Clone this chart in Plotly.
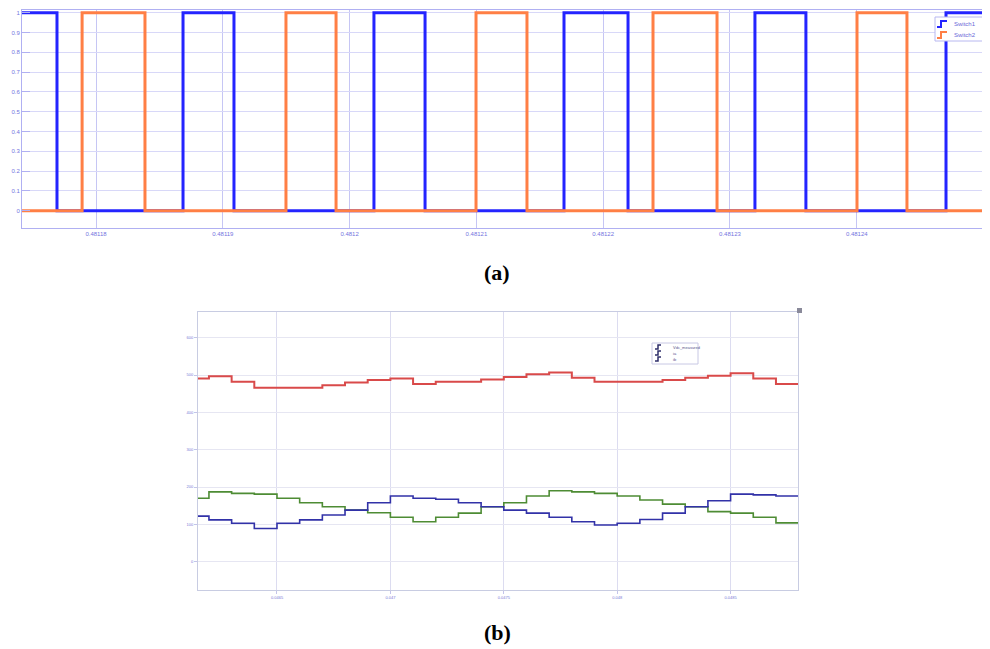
import plotly.graph_objects as go

# page body has an 8px margin; figure is sized to fill the remaining window
OFF = 8
W, H = 990 - OFF, 649 - OFF

# ---------------- (a) switching signals ----------------
sw1_t = [0.481174, 0.48117692, 0.48118686, 0.48119088, 0.48120192, 0.48120595,
         0.48121691, 0.48122196, 0.48123197, 0.48123599, 0.48124704, 0.481251]
sw1_v = [1, 0, 1, 0, 1, 0, 1, 0, 1, 0, 1, 1]
sw2_t = [0.481174, 0.4811789, 0.48118386, 0.48119498, 0.48119893, 0.48120997,
         0.48121399, 0.48122393, 0.48122898, 0.48124002, 0.48124396, 0.481251]
sw2_v = [0, 1, 0, 1, 0, 1, 0, 1, 0, 1, 0, 0]
a_xticks = [0.48118, 0.48119, 0.4812, 0.48121, 0.48122, 0.48123, 0.48124, 0.48125]
a_xlabels = ["0.48118", "0.48119", "0.4812", "0.48121", "0.48122", "0.48123", "0.48124", "0.48125"]
a_yticks = [0, 0.1, 0.2, 0.3, 0.4, 0.5, 0.6, 0.7, 0.8, 0.9, 1]
a_ylabels = ["0", "0.1", "0.2", "0.3", "0.4", "0.5", "0.6", "0.7", "0.8", "0.9", "1"]
a_names = ["Switch1", "Switch2"]

# ---------------- (b) measured quantities ----------------
b_t = [0.04615, 0.0462, 0.0463, 0.0464, 0.0465, 0.0466, 0.0467, 0.0468, 0.0469, 0.047,
       0.0471, 0.0472, 0.0473, 0.0474, 0.0475, 0.0476, 0.0477, 0.0478, 0.0479, 0.048,
       0.0481, 0.0482, 0.0483, 0.0484, 0.0485, 0.0486, 0.0487, 0.0488]
b_red = [491, 497, 482, 466, 466, 466, 473, 480, 487, 491, 476, 482, 482, 488,
         495, 502, 507, 493, 482, 482, 482, 487, 493, 498, 505, 491, 476, 476]
b_green = [170, 187, 183, 181, 170, 158, 147, 138, 131, 119, 107, 119, 130, 147,
           158, 176, 190, 187, 183, 176, 165, 154, 147, 134, 130, 119, 104, 104]
b_blue = [122, 112, 103, 89, 103, 112, 125, 138, 158, 176, 170, 167, 158, 147,
          138, 130, 119, 107, 98, 103, 113, 130, 147, 163, 181, 179, 176, 176]
b_xticks = [0.0465, 0.047, 0.0475, 0.048, 0.0485]
b_xlabels = ["0.0465", "0.047", "0.0475", "0.048", "0.0485"]
b_yticks = [0, 100, 200, 300, 400, 500, 600]
b_ylabels = ["0", "100", "200", "300", "400", "500", "600"]
b_names = ["Vdc_measured", "ia", "ib"]


def px(x):
    return (x - OFF) / W


def py(y):
    return 1 - (y - OFF) / H


fig = go.Figure()

fig.add_trace(go.Scatter(x=sw1_t, y=sw1_v, mode="lines", line_shape="hv",
                         line=dict(color="#2424ff", width=3), name=a_names[0],
                         xaxis="x", yaxis="y", showlegend=False))
fig.add_trace(go.Scatter(x=sw2_t, y=sw2_v, mode="lines", line_shape="hv",
                         line=dict(color="#ff7f45", width=3), name=a_names[1],
                         xaxis="x", yaxis="y", showlegend=False))

fig.add_trace(go.Scatter(x=b_t, y=b_red, mode="lines", line_shape="hv",
                         line=dict(color="#d94a4a", width=2), name=b_names[0],
                         xaxis="x2", yaxis="y2", showlegend=False))
fig.add_trace(go.Scatter(x=b_t, y=b_green, mode="lines", line_shape="hv",
                         line=dict(color="#4e8c34", width=1.6), name=b_names[1],
                         xaxis="x2", yaxis="y2", showlegend=False))
fig.add_trace(go.Scatter(x=b_t, y=b_blue, mode="lines", line_shape="hv",
                         line=dict(color="#3232a8", width=1.6), name=b_names[2],
                         xaxis="x2", yaxis="y2", showlegend=False))

tick_font_a = dict(family="Liberation Sans, Arial, sans-serif", size=6, color="#7474e0")
tick_font_b = dict(family="Liberation Sans, Arial, sans-serif", size=4, color="#7a7ad6")

fig.update_layout(
    width=W, height=H, autosize=False,
    margin=dict(l=0, r=0, t=0, b=0),
    paper_bgcolor="white", plot_bgcolor="white",
    showlegend=False,
    xaxis=dict(domain=[px(22), 1.0], range=[0.48117416, 0.48125051],
               tickmode="array", tickvals=a_xticks, ticktext=a_xlabels,
               tickfont=tick_font_a, ticks="", showgrid=True, gridcolor="#c6c6f4",
               gridwidth=1, showline=True, linecolor="#b0b0f2", linewidth=1,
               mirror=True, zeroline=False, anchor="y"),
    yaxis=dict(domain=[py(228), py(10)], range=[-0.087, 1.0136],
               tickmode="array", tickvals=a_yticks, ticktext=a_ylabels,
               tickfont=tick_font_a, ticks="inside", ticklen=8, tickcolor="#b0b0f2",
               showgrid=True, gridcolor="#d8d8f8", gridwidth=1,
               showline=True, linecolor="#b0b0f2", linewidth=1, mirror=True,
               zeroline=False, anchor="x"),
    xaxis2=dict(domain=[px(198), px(798)], range=[0.0461517, 0.0487972],
                tickmode="array", tickvals=b_xticks, ticktext=b_xlabels,
                tickfont=tick_font_b, ticks="outside", ticklen=3, tickcolor="#c4c4ea",
                showgrid=True, gridcolor="#dcdcf0", gridwidth=1,
                showline=True, linecolor="#c8cce2", linewidth=1, mirror=True,
                zeroline=False, anchor="y2"),
    yaxis2=dict(domain=[py(590), py(312)], range=[-76, 669],
                tickmode="array", tickvals=b_yticks, ticktext=b_ylabels,
                tickfont=tick_font_b, ticks="outside", ticklen=3, tickcolor="#c4c4ea",
                showgrid=True, gridcolor="#e6e6f2", gridwidth=1,
                showline=True, linecolor="#c8cce2", linewidth=1, mirror=True,
                zeroline=False, anchor="x2"),
)

shapes = []
ann = []

# legend (a)
shapes.append(dict(type="rect", xref="paper", yref="paper",
                   x0=px(935), x1=px(995), y0=py(41), y1=py(17),
                   line=dict(color="#b8b8f0", width=1), fillcolor="white", layer="above"))
for (yy, col, name) in [(24, "#2424ff", a_names[0]), (35, "#ff7f45", a_names[1])]:
    shapes.append(dict(type="path", xref="paper", yref="paper",
                       path=f"M {px(937)},{py(yy+3)} L {px(941)},{py(yy+3)} L {px(941)},{py(yy-3)} L {px(947)},{py(yy-3)}",
                       line=dict(color=col, width=2), layer="above"))
    ann.append(dict(xref="paper", yref="paper", x=px(952), y=py(yy), text=name,
                    showarrow=False, xanchor="left", yanchor="middle",
                    font=dict(family="Liberation Sans, Arial, sans-serif", size=6, color="#6a6ad8")))

# legend (b)
shapes.append(dict(type="rect", xref="paper", yref="paper",
                   x0=px(652), x1=px(698), y0=py(364), y1=py(343),
                   line=dict(color="#c8c8e4", width=1), fillcolor="white", layer="above"))
for yy in [347, 353, 359]:
    shapes.append(dict(type="path", xref="paper", yref="paper",
                       path=f"M {px(655)},{py(yy+2)} L {px(658)},{py(yy+2)} L {px(658)},{py(yy-2)} L {px(661)},{py(yy-2)}",
                       line=dict(color="#2e2e6a", width=1.5), layer="above"))
for yy, name in zip([347, 353, 359], b_names):
    ann.append(dict(xref="paper", yref="paper", x=px(671), y=py(yy), text=name,
                    showarrow=False, xanchor="left", yanchor="middle",
                    font=dict(family="Liberation Sans, Arial, sans-serif", size=4, color="#55558a")))

# small marker at top-right corner of (b)
shapes.append(dict(type="rect", xref="paper", yref="paper",
                   x0=px(797), x1=px(802), y0=py(313), y1=py(308),
                   line=dict(width=0), fillcolor="#8a8a9a", layer="above"))

# captions
ann.append(dict(xref="paper", yref="paper", x=px(497), y=py(272), text="<b>(a)</b>",
                showarrow=False, xanchor="center", yanchor="middle",
                font=dict(family="Liberation Serif, Times New Roman, serif", size=22, color="black")))
ann.append(dict(xref="paper", yref="paper", x=px(497), y=py(632), text="<b>(b)</b>",
                showarrow=False, xanchor="center", yanchor="middle",
                font=dict(family="Liberation Serif, Times New Roman, serif", size=22, color="black")))

fig.update_layout(shapes=shapes, annotations=ann)

fig.write_html("out.html")
